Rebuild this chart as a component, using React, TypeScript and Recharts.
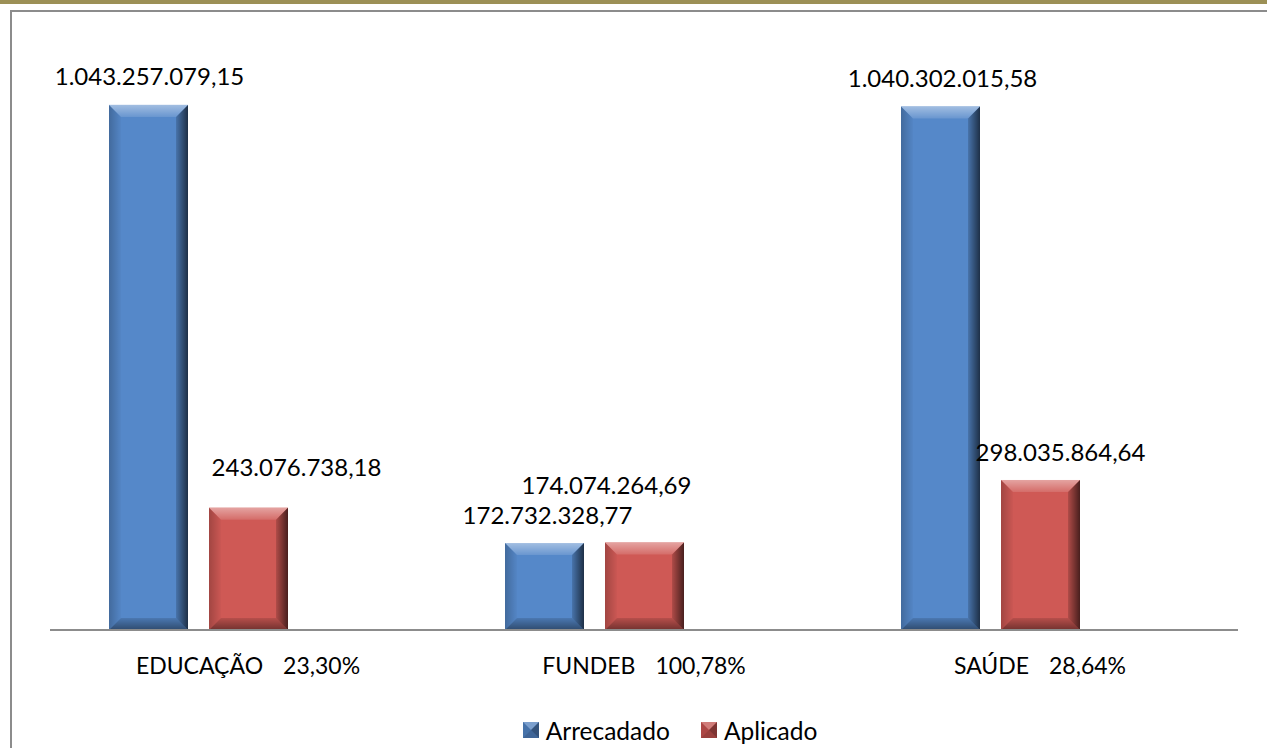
import React from 'react';
import { BarChart, Bar, XAxis, YAxis, Legend, LabelList } from 'recharts';

const categorias = ['EDUCAÇÃO', 'FUNDEB', 'SAÚDE'];
const percentuaisTexto = ['23,30%', '100,78%', '28,64%'];
const percentuais = [0.233, 1.0078, 0.2864];
const arrecadado = [1043257079.15, 172732328.77, 1040302015.58];
const aplicado = [243076738.18, 174074264.69, 298035864.64];

const data = categorias.map((c, i) => ({
  categoria: c,
  pct: percentuaisTexto[i],
  arrecadado: arrecadado[i],
  aplicado: aplicado[i],
  percentual: percentuais[i],
}));

// label displacement [dx, dy] relative to bar top centre
const labelShift: Record<string, [number, number][]> = {
  arrecadado: [[1, -20], [3, -19], [2, -19]],
  aplicado: [[48, -32], [-38, -48], [20, -19]],
};

const FONT = 'Lato, "Open Sans", sans-serif';
const FS = 23;
const FS_LABEL = 24;
const FS_LEGEND = 24.5;

function fmt(v: number): string {
  const fixed = v.toFixed(2);
  const [intPart, dec] = fixed.split('.');
  const withDots = intPart.replace(/\B(?=(\d{3})+(?!\d))/g, '.');
  return `${withDots},${dec}`;
}

const BevelBar = (props: any) => {
  const { x, y, width, height, fill } = props;
  if (!width || !height || height < 1) return null;
  const b = Math.min(12, width / 4, height / 3);
  const x2 = x + width;
  const y2 = y + height;
  return (
    <g>
      <rect x={x} y={y} width={width} height={height} fill={fill} />
      <polygon points={`${x},${y} ${x2},${y} ${x2 - b},${y + b} ${x + b},${y + b}`} fill="url(#bvTop)" />
      <polygon points={`${x},${y} ${x + b},${y + b} ${x + b},${y2 - b} ${x},${y2}`} fill="url(#bvLeft)" />
      <polygon points={`${x2},${y} ${x2},${y2} ${x2 - b},${y2 - b} ${x2 - b},${y + b}`} fill="url(#bvRight)" />
      <polygon points={`${x},${y2} ${x2},${y2} ${x2 - b},${y2 - b} ${x + b},${y2 - b}`} fill="url(#bvBottom)" />
    </g>
  );
};

const makeLabel = (key: string) => (props: any) => {
  const { x, y, width, value, index } = props;
  const [dx, dy] = labelShift[key][index];
  return (
    <text
      x={x + width / 2 + dx}
      y={y + dy}
      textAnchor="middle"
      fontFamily={FONT}
      fontSize={FS_LABEL}
      fill="#000"
    >
      {fmt(value)}
    </text>
  );
};

const CategoryTick = (props: any) => {
  const { x, y, payload, index } = props;
  return (
    <text x={x} y={y + 36} textAnchor="middle" fontFamily={FONT} fontSize={FS} fill="#000">
      <tspan>{payload.value}</tspan>
      <tspan dx={20}>{percentuaisTexto[index]}</tspan>
    </text>
  );
};

const LegendIcon = ({ color }: { color: string }) => (
  <svg width={16} height={16} style={{ display: 'block' }}>
    <rect x={0} y={0} width={16} height={16} fill={color} />
    <polygon points="0,0 16,0 8,8" fill="rgba(255,255,255,0.25)" />
    <polygon points="16,0 16,16 8,8" fill="rgba(0,0,0,0.35)" />
    <polygon points="0,16 16,16 8,8" fill="rgba(0,0,0,0.2)" />
    <polygon points="0,0 0,16 8,8" fill="rgba(0,0,0,0.1)" />
  </svg>
);

const legendItems = [
  { label: 'Arrecadado', color: '#4f7fbd' },
  { label: 'Aplicado', color: '#c0504d' },
];

const CustomLegend = () => (
  <div
    style={{
      height: 30,
      display: 'flex',
      justifyContent: 'center',
      alignItems: 'center',
      paddingLeft: 52,
      fontFamily: FONT,
      fontSize: FS_LEGEND,
      color: '#000',
    }}
  >
    {legendItems.map((it, i) => (
      <div key={it.label} style={{ display: 'flex', alignItems: 'center', marginLeft: i ? 31 : 0 }}>
        <LegendIcon color={it.color} />
        <span style={{ marginLeft: 7 }}>{it.label}</span>
      </div>
    ))}
  </div>
);

export default function App() {
  return (
    <div style={{ position: 'absolute', left: 0, top: 0, width: 1267, height: 748, background: '#fff', overflow: 'hidden' }}>
      <div style={{ position: 'absolute', left: 0, top: 0, width: 1267, height: 4, background: '#9c9056' }} />
      <div style={{ position: 'absolute', left: 10, top: 10, width: 1257, height: 2, background: '#8c8c8c' }} />
      <div style={{ position: 'absolute', left: 10, top: 10, width: 2, height: 738, background: '#8c8c8c' }} />
      <div style={{ position: 'absolute', left: 0, top: 0 }}>
        <BarChart
          width={1267}
          height={748}
          data={data}
          margin={{ top: 26, right: 29, bottom: 3, left: 50 }}
          barSize={79}
          barGap={21}
        >
          <defs>
            <linearGradient id="bvTop" x1="0" y1="0" x2="0" y2="1">
              <stop offset="0" stopColor="#fff" stopOpacity={0.45} />
              <stop offset="1" stopColor="#fff" stopOpacity={0.12} />
            </linearGradient>
            <linearGradient id="bvLeft" x1="0" y1="0" x2="1" y2="0">
              <stop offset="0" stopColor="#000" stopOpacity={0.22} />
              <stop offset="1" stopColor="#000" stopOpacity={0.02} />
            </linearGradient>
            <linearGradient id="bvRight" x1="0" y1="0" x2="1" y2="0">
              <stop offset="0" stopColor="#000" stopOpacity={0.15} />
              <stop offset="1" stopColor="#000" stopOpacity={0.65} />
            </linearGradient>
            <linearGradient id="bvBottom" x1="0" y1="0" x2="0" y2="1">
              <stop offset="0" stopColor="#000" stopOpacity={0.12} />
              <stop offset="1" stopColor="#000" stopOpacity={0.45} />
            </linearGradient>
          </defs>
          <XAxis
            dataKey="categoria"
            height={85}
            tickLine={false}
            axisLine={{ stroke: '#8c8c8c', strokeWidth: 2 }}
            tick={<CategoryTick />}
            interval={0}
          />
          <YAxis hide domain={[0, 1200000000]} />
          <Legend verticalAlign="bottom" content={<CustomLegend />} />
          <Bar dataKey="arrecadado" name="Arrecadado" fill="#5588c9" shape={<BevelBar />} isAnimationActive={false}>
            <LabelList dataKey="arrecadado" content={makeLabel('arrecadado')} />
          </Bar>
          <Bar dataKey="aplicado" name="Aplicado" fill="#cf5955" shape={<BevelBar />} isAnimationActive={false}>
            <LabelList dataKey="aplicado" content={makeLabel('aplicado')} />
          </Bar>
          <Bar dataKey="percentual" name="Percentual" fill="none" legendType="none" isAnimationActive={false} />
        </BarChart>
      </div>
    </div>
  );
}
